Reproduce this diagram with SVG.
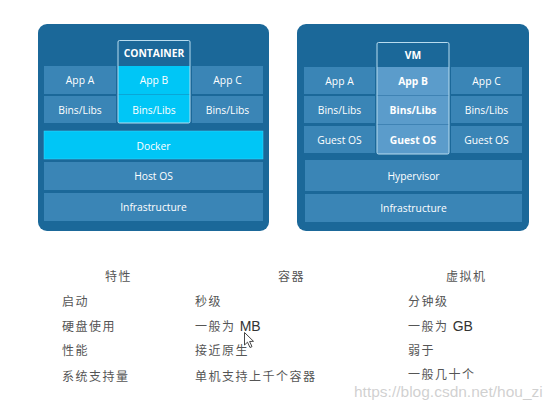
<svg xmlns="http://www.w3.org/2000/svg" width="554" height="403" viewBox="0 0 554 403">
<style>
.panel{fill:#1b6899}
.cell{fill:#3a85b6}
.cyan{fill:#00c6f6}
.vmcell{fill:#5b9ccb}
.lbl{font-family:"Open Sans","DejaVu Sans",sans-serif;font-size:10.3px;fill:#fff;text-anchor:middle;dominant-baseline:central}
.b{font-weight:bold}
.outline{fill:none;stroke:#b8dcef;stroke-width:1}
.cn{font-family:"Noto Sans CJK SC","Noto Sans CJK JP",sans-serif;font-size:12px;fill:#555;letter-spacing:1.5px}
.lat{font-family:"Liberation Sans",Arial,sans-serif;font-size:14px;fill:#333}
</style>
<rect width="554" height="403" fill="#fff"/>
<g id="container-panel">
<rect class="panel" x="38" y="24" width="231" height="207" rx="9"/>
<rect class="cell" x="44" y="66" width="72" height="28"/>
<text class="lbl" x="80" y="80">App A</text>
<rect class="cell" x="44" y="96" width="72" height="27"/>
<text class="lbl" x="80" y="109.5">Bins/Libs</text>
<rect class="cell" x="192" y="66" width="71" height="28"/>
<text class="lbl" x="227.5" y="80">App C</text>
<rect class="cell" x="192" y="96" width="71" height="27"/>
<text class="lbl" x="227.5" y="109.5">Bins/Libs</text>
<rect class="cyan" x="118" y="66" width="72" height="28"/>
<rect class="cyan" x="118" y="95" width="72" height="28"/>
<line x1="118" y1="94.5" x2="190" y2="94.5" stroke="#0aa6d6"/>
<text class="lbl" x="154" y="80">App B</text>
<text class="lbl" x="154" y="109.5">Bins/Libs</text>
<rect class="outline" x="118" y="40.5" width="72" height="82.5" rx="1.5"/>
<text class="lbl b" x="154" y="53">CONTAINER</text>
<rect class="cyan" x="44" y="131" width="219" height="28" stroke="#3ad6ff" stroke-width="0.5"/>
<text class="lbl" x="153.5" y="145.5">Docker</text>
<rect class="cell" x="44" y="162" width="219" height="28"/>
<text class="lbl" x="153.5" y="175.5">Host OS</text>
<rect class="cell" x="44" y="193" width="219" height="28"/>
<text class="lbl" x="153.5" y="207">Infrastructure</text>
</g>
<g id="vm-panel">
<rect class="panel" x="297" y="24" width="232" height="207" rx="9"/>
<rect class="cell" x="304" y="67" width="71" height="27"/>
<text class="lbl" x="339.5" y="81">App A</text>
<rect class="cell" x="304" y="96" width="71" height="27"/>
<text class="lbl" x="339.5" y="110">Bins/Libs</text>
<rect class="cell" x="304" y="126" width="71" height="27"/>
<text class="lbl" x="339.5" y="140">Guest OS</text>
<rect class="cell" x="451" y="67" width="71" height="27"/>
<text class="lbl" x="486.5" y="81">App C</text>
<rect class="cell" x="451" y="96" width="71" height="27"/>
<text class="lbl" x="486.5" y="110">Bins/Libs</text>
<rect class="cell" x="451" y="126" width="71" height="27"/>
<text class="lbl" x="486.5" y="140">Guest OS</text>
<rect class="vmcell" x="377" y="67" width="72" height="28"/>
<rect class="vmcell" x="377" y="96" width="72" height="28"/>
<rect class="vmcell" x="377" y="125" width="72" height="29"/>
<line x1="377" y1="95.5" x2="449" y2="95.5" stroke="#3f83b4"/>
<line x1="377" y1="124.5" x2="449" y2="124.5" stroke="#3f83b4"/>
<text class="lbl b" x="413" y="81">App B</text>
<text class="lbl b" x="413" y="110">Bins/Libs</text>
<text class="lbl b" x="413" y="140">Guest OS</text>
<rect class="outline" x="377" y="42.5" width="72" height="111.5" rx="1.5"/>
<text class="lbl b" x="413" y="55">VM</text>
<rect class="cell" x="305" y="160" width="217" height="31"/>
<text class="lbl" x="413.5" y="176">Hypervisor</text>
<rect class="cell" x="305" y="194" width="217" height="28"/>
<text class="lbl" x="413.5" y="208">Infrastructure</text>
</g>
<g id="table">
<text class="cn" x="105" y="281">特性</text>
<text class="cn" x="278" y="281">容器</text>
<text class="cn" x="446" y="281">虚拟机</text>
<text class="cn" x="62" y="306">启动</text>
<text class="cn" x="62" y="331">硬盘使用</text>
<text class="cn" x="62" y="355">性能</text>
<text class="cn" x="62" y="381">系统支持量</text>
<text class="cn" x="195" y="306">秒级</text>
<text class="cn" x="195" y="331">一般为 <tspan class="lat" font-size="14px" fill="#333" letter-spacing="0">MB</tspan></text>
<text class="cn" x="195" y="355">接近原生</text>
<text class="cn" x="195" y="381">单机支持上千个容器</text>
<text class="cn" x="408" y="306">分钟级</text>
<text class="cn" x="408" y="331">一般为 <tspan class="lat" font-size="14px" fill="#333" letter-spacing="0">GB</tspan></text>
<text class="cn" x="408" y="355">弱于</text>
<text class="cn" x="408" y="379">一般几十个</text>
</g>
<g id="cursor">
<path d="M244.5,332.5 L244.5,345 L247.5,342.2 L250,347.5 L252,346.6 L249.6,341.5 L253.5,341.3 Z" fill="#fff" stroke="#333" stroke-width="0.9" stroke-linejoin="round"/>
</g>
<text x="354" y="397" font-family="Liberation Sans,Arial,sans-serif" font-size="15.5" fill="#c8c8c8" fill-opacity="0.85">https://blog.csdn.net/hou_zi</text>
</svg>
